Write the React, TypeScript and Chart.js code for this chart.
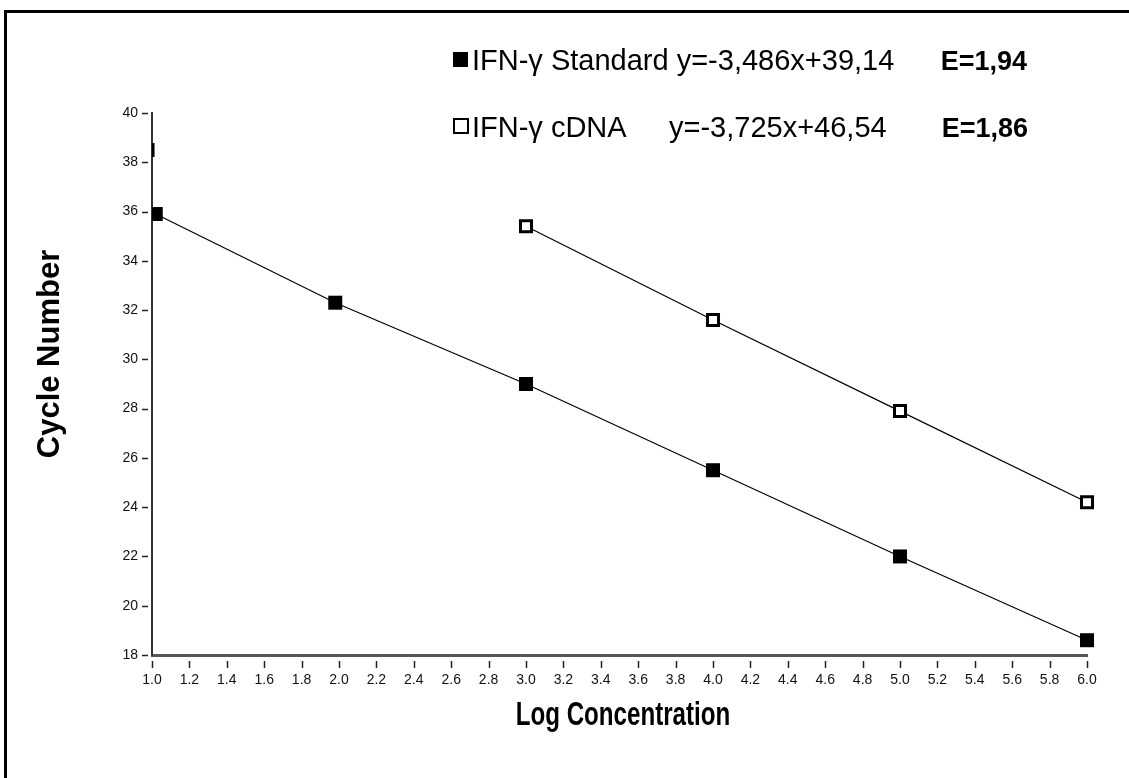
import React, { useEffect, useRef } from 'react';
import { Chart, registerables } from 'chart.js';

Chart.register(...registerables);

// ---- data ----
const STANDARD_X = [1.02, 1.98, 3.0, 4.0, 5.0, 6.0];
const STANDARD_Y = [35.9, 32.3, 29.0, 25.5, 22.0, 18.6];
const CDNA_X = [3.0, 4.0, 5.0, 6.0];
const CDNA_Y = [35.4, 31.6, 27.9, 24.2];
// a marker lying almost entirely left of the y axis (only its edge shows)
const EDGE_X = [0.976];
const EDGE_Y = [38.5];

const X_TICKS = [1.0, 1.2, 1.4, 1.6, 1.8, 2.0, 2.2, 2.4, 2.6, 2.8, 3.0, 3.2, 3.4, 3.6, 3.8, 4.0, 4.2, 4.4, 4.6, 4.8, 5.0, 5.2, 5.4, 5.6, 5.8, 6.0];
const Y_TICKS = [18, 20, 22, 24, 26, 28, 30, 32, 34, 36, 38, 40];

const LEGEND_NAMES = ['IFN-γ Standard', 'IFN-γ cDNA'];
const LEGEND_EQUATIONS = ['y=-3,486x+39,14', 'y=-3,725x+46,54'];
const LEGEND_EFFICIENCY = ['E=1,94', 'E=1,86'];

const X_TITLE = 'Log Concentration';
const Y_TITLE = 'Cycle Number';

const FONT = '"Liberation Sans", Arial, Helvetica, sans-serif';

const W = 1129;
const H = 778;

const decorPlugin = {
  id: 'decor',
  afterDraw(chart: any) {
    const ctx = chart.ctx as CanvasRenderingContext2D;
    const area = chart.chartArea;
    const xs = chart.scales.x;
    const ys = chart.scales.y;
    ctx.save();

    // detached y tick marks
    ctx.strokeStyle = '#222';
    ctx.lineWidth = 1.5;
    for (const v of Y_TICKS) {
      const y = Math.round(ys.getPixelForValue(v)) + 0.5;
      ctx.beginPath();
      ctx.moveTo(area.left - 10, y);
      ctx.lineTo(area.left - 4, y);
      ctx.stroke();
    }
    // detached x tick marks
    for (const v of X_TICKS) {
      const x = Math.round(xs.getPixelForValue(v)) + 0.5;
      ctx.beginPath();
      ctx.moveTo(x, area.bottom + 6);
      ctx.lineTo(x, area.bottom + 13);
      ctx.stroke();
    }

    // axis titles
    ctx.fillStyle = '#000';
    ctx.textAlign = 'center';
    ctx.textBaseline = 'alphabetic';
    ctx.save();
    ctx.translate(59, (area.top + area.bottom) / 2 - 30);
    ctx.rotate(-Math.PI / 2);
    ctx.font = `bold 31px ${FONT}`;
    ctx.fillText(Y_TITLE, 0, 0);
    ctx.restore();

    ctx.save();
    ctx.translate(623, 725);
    ctx.scale(0.71, 1);
    ctx.font = `bold 34px ${FONT}`;
    ctx.fillText(X_TITLE, 0, 0);
    ctx.restore();

    // legend
    ctx.textAlign = 'left';
    ctx.fillStyle = '#000';
    ctx.fillRect(453, 52, 15, 15);
    ctx.lineWidth = 2;
    ctx.strokeStyle = '#000';
    ctx.strokeRect(454, 119, 14, 14);

    ctx.font = `29px ${FONT}`;
    ctx.fillText(LEGEND_NAMES[0] + ' ' + LEGEND_EQUATIONS[0], 472, 70);
    ctx.fillText(LEGEND_NAMES[1], 472, 137);
    ctx.fillText(LEGEND_EQUATIONS[1], 669, 137);

    ctx.font = `bold 27px ${FONT}`;
    ctx.textAlign = 'right';
    ctx.fillText(LEGEND_EFFICIENCY[0], 1027, 70);
    ctx.fillText(LEGEND_EFFICIENCY[1], 1028, 137);

    ctx.restore();
  },
};

export default function App() {
  const ref = useRef<HTMLCanvasElement | null>(null);

  useEffect(() => {
    document.body.style.margin = '0';
    const canvas = ref.current;
    if (!canvas) return;
    const clip = { left: 0, top: 40, right: 40, bottom: 40 };
    const chart = new Chart(canvas, {
      type: 'scatter',
      data: {
        datasets: [
          {
            label: LEGEND_NAMES[0],
            data: STANDARD_X.map((x, i) => ({ x, y: STANDARD_Y[i] })),
            showLine: true,
            borderColor: '#000',
            borderWidth: 1.2,
            pointStyle: 'rect',
            pointRadius: 9.9,
            pointBackgroundColor: '#000',
            pointBorderWidth: 0,
            clip,
          } as any,
          {
            label: LEGEND_NAMES[1],
            data: CDNA_X.map((x, i) => ({ x, y: CDNA_Y[i] })),
            showLine: true,
            borderColor: '#000',
            borderWidth: 1.2,
            pointStyle: 'rect',
            pointRadius: 7.8,
            pointBackgroundColor: '#fff',
            pointBorderColor: '#000',
            pointBorderWidth: 3,
            clip,
          } as any,
          {
            label: 'edge',
            data: EDGE_X.map((x, i) => ({ x, y: EDGE_Y[i] })),
            showLine: false,
            pointStyle: 'rect',
            pointRadius: 7.8,
            pointBackgroundColor: '#fff',
            pointBorderColor: '#000',
            pointBorderWidth: 3,
            clip,
          } as any,
        ],
      },
      options: {
        animation: false,
        responsive: false,
        devicePixelRatio: 1,
        layout: { padding: { left: 0, top: 113, right: W - 1087, bottom: 0 } },
        plugins: {
          legend: { display: false },
          tooltip: { enabled: false },
        },
        scales: {
          x: {
            type: 'linear',
            min: 1,
            max: 6,
            afterBuildTicks: (scale: any) => {
              scale.ticks = X_TICKS.map((v) => ({ value: v }));
            },
            afterFit: (scale: any) => {
              scale.height = H - 655;
            },
            grid: { display: true, drawOnChartArea: false, drawTicks: false },
            border: { display: true, color: '#555', width: 3 },
            ticks: {
              autoSkip: false,
              maxRotation: 0,
              padding: 17,
              color: '#111',
              font: { family: FONT, size: 14 },
              callback: (v: any) => Number(v).toFixed(1),
            },
          },
          y: {
            type: 'linear',
            min: 18,
            max: 40,
            afterBuildTicks: (scale: any) => {
              scale.ticks = Y_TICKS.map((v) => ({ value: v }));
            },
            afterFit: (scale: any) => {
              scale.width = 152;
            },
            grid: { display: true, drawOnChartArea: false, drawTicks: false },
            border: { display: true, color: '#333', width: 2 },
            ticks: {
              autoSkip: false,
              padding: 14,
              color: '#111',
              font: { family: FONT, size: 14 },
              callback: (v: any) => String(v),
            },
          },
        },
      },
      plugins: [decorPlugin],
    });
    return () => chart.destroy();
  }, []);

  return (
    <div style={{ position: 'relative', width: W, height: H, background: '#fff', overflow: 'hidden' }}>
      <canvas ref={ref} width={W} height={H} style={{ position: 'absolute', left: 0, top: 0, width: W, height: H }} />
      <div
        style={{
          position: 'absolute',
          left: 4,
          top: 10,
          right: 0,
          bottom: 0,
          borderLeft: '3px solid #000',
          borderTop: '3px solid #000',
          pointerEvents: 'none',
        }}
      />
    </div>
  );
}
